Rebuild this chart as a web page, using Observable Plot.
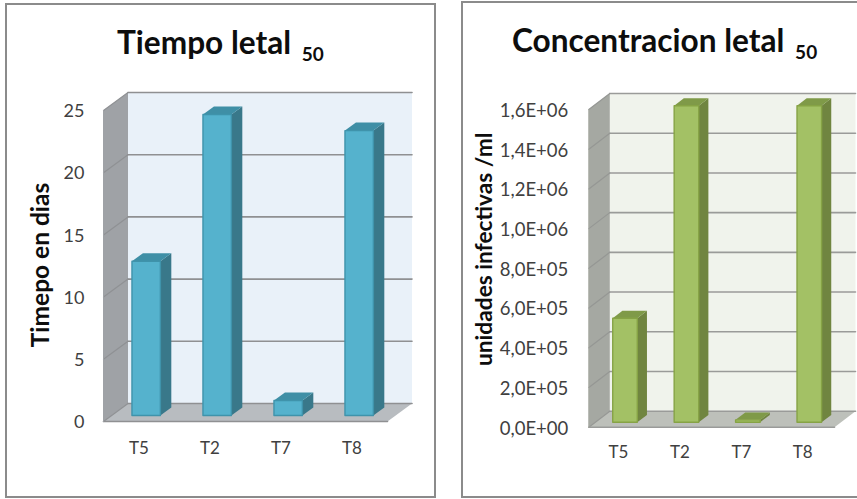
<!DOCTYPE html>
<html><head><meta charset="utf-8">
<script src="https://cdn.jsdelivr.net/npm/d3@7"></script>
<script src="https://cdn.jsdelivr.net/npm/@observablehq/plot@0.6"></script>
<style>
html,body{margin:0;padding:0;background:#fff;overflow:hidden}
#root{position:relative;width:857px;height:499px;overflow:hidden;font-family:Lato,sans-serif}
.panel{position:absolute;box-sizing:border-box;border:2px solid #8b8b8b;background:#fff}
.panel svg{position:absolute;left:0;top:0;overflow:visible}
.title{position:absolute;font-weight:700;color:#0d0d0d;white-space:nowrap;text-align:center;font-size:31.6px;line-height:36px}
.title span{font-size:19px;position:relative;top:7px;margin-left:3px}
</style></head><body><div id="root"></div>
<script>
const categories = ["T5","T2","T7","T8"];
const tiempoValues = [12.4, 24.2, 1.2, 22.9];
const tiempoTicks = [0,5,10,15,20,25];
const concValues = [524000, 1594000, 12000, 1594000];
const concTicks = [0,2e5,4e5,6e5,8e5,1e6,1.2e6,1.4e6,1.6e6];
const concLabels = ["0,0E+00","2,0E+05","4,0E+05","6,0E+05","8,0E+05","1,0E+06","1,2E+06","1,4E+06","1,6E+06"];

function panel({left,top,w,h,title,titleLeft,titleTop,ylabel,values,ticks,tickFormat,vmax,front,depth,zBar,colors,tickPad,tickSize,tickDy,xDx,ylabelX,ylabelDy,ylabelSize}){
  const root = document.getElementById("root");
  const div = document.createElement("div");
  div.className="panel";
  Object.assign(div.style,{left:left+"px",top:top+"px",width:w+"px",height:h+"px"});
  root.appendChild(div);
  const t=document.createElement("div");t.className="title";
  t.innerHTML=title+" <span>50</span>";
  t.style.left=(titleLeft-left-2)+"px";t.style.top=(titleTop-top-2)+"px";
  div.appendChild(t);
  const W=w,H=h;
  const ox=left+2, oy=top+2;
  const fx0=front.x0-ox, fx1=front.x1-ox, fy0=front.yTop-oy, fy1=front.yBottom-oy;
  const n=categories.length;
  const ux=(fx1-fx0)/n, uy=(fy1-fy0)/vmax;
  const P=(i,v,z)=>({x:i+z*depth.dx/ux, y:v+z*depth.dy/uy});
  const poly=(pts,fill,stroke,sw)=>Plot.line([...pts,pts[0]],{x:"x",y:"y",fill,stroke:stroke||"none",strokeWidth:sw||1,curve:"linear",strokeLinejoin:"round"});
  const a=-0.5,b=n-0.5;
  const marks=[
    poly([P(a,0,1),P(b,0,1),P(b,vmax,1),P(a,vmax,1)],colors.back),
    poly([P(a,0,0),P(a,0,1),P(a,vmax,1),P(a,vmax,0)],colors.wall),
    poly([P(a,0,0),P(b,0,0),P(b,0,1),P(a,0,1)],colors.floor),
    ...ticks.map(v=>Plot.line([P(a,v,1),P(b,v,1)],{x:"x",y:"y",stroke:colors.grid,strokeWidth:1.6})),
    ...ticks.map(v=>Plot.line([P(a,v,0),P(a,v,1)],{x:"x",y:"y",stroke:colors.wallGrid,strokeWidth:1.2})),
    Plot.line([P(a,0,0),P(b,0,0)],{x:"x",y:"y",stroke:colors.grid,strokeWidth:1.6}),
    Plot.line([P(a,0,0),P(a,vmax,0)],{x:"x",y:"y",stroke:colors.wall,strokeWidth:1}),
  ];
  const hw=0.2, shift=-1/ux;
  values.forEach((v,i)=>{
    const [z0,z1]=zBar, l=i-hw+shift, r=i+hw+shift;
    marks.push(
      poly([P(r,0,z0),P(r,0,z1),P(r,v,z1),P(r,v,z0)],colors.side),
      poly([P(l,v,z0),P(r,v,z0),P(r,v,z1),P(l,v,z1)],colors.top),
      poly([P(l,0,z0),P(r,0,z0),P(r,v,z0),P(l,v,z0)],colors.bar,colors.barStroke,1.4)
    );
  });
  marks.push(
    Plot.axisY({ticks,tickFormat,tickSize:0,tickPadding:tickPad,fontSize:tickSize,label:null,fill:"#404040",dy:tickDy}),
    Plot.axisX({ticks:categories.map((_,i)=>i),tickFormat:i=>categories[i],tickSize:0,tickPadding:front.xPad,fontSize:17,label:null,fill:"#404040",dx:xDx}),
    Plot.text([ylabel],{frameAnchor:"left",textAnchor:"middle",lineAnchor:"middle",rotate:-90,dx:ylabelX-ox-fx0,dy:ylabelDy,text:d=>d,fontWeight:700,fontSize:ylabelSize,fill:"#0d0d0d"})
  );
  const svg=Plot.plot({
    width:W,height:H,
    marginLeft:fx0,marginRight:W-fx1,marginTop:fy0,marginBottom:H-fy1,
    style:{fontFamily:"Lato,sans-serif",background:"transparent",overflow:"visible",maxWidth:"none"},
    x:{type:"linear",domain:[a,b]},
    y:{type:"linear",domain:[0,vmax]},
    marks
  });
  div.appendChild(svg);
}

panel({left:5,top:3,w:431,h:495,title:"Tiempo letal",titleLeft:117,titleTop:24,
  ylabel:"Timepo en dias",ylabelX:41,ylabelDy:-1,ylabelSize:24.5,values:tiempoValues,ticks:tiempoTicks,tickFormat:d=>d,vmax:25,
  front:{x0:103,x1:387,yTop:110,yBottom:421,xPad:20},depth:{dx:24.5,dy:18},zBar:[1/3,0.78],tickPad:19,tickSize:18,tickDy:1,xDx:0,
  colors:{back:"#e9f1f9",wall:"#9fa2a6",floor:"#b8bcc0",grid:"#8f9092",wallGrid:"#8f9194",side:"#39788a",top:"#3f8fa6",bar:"#55b2cd",barStroke:"#3f93ab"}});

panel({left:461,top:1,w:420,h:497,title:"Concentracion letal",titleLeft:512,titleTop:22,
  ylabel:"unidades infectivas /ml",ylabelX:484,ylabelDy:-19,ylabelSize:22.7,values:concValues,ticks:concTicks,tickFormat:d=>concLabels[concTicks.indexOf(d)],vmax:1.6e6,
  front:{x0:588.3,x1:834,yTop:109,yBottom:426.7,xPad:18.5},depth:{dx:21,dy:16},zBar:[0.31,0.77],tickPad:20.5,tickSize:18.5,tickDy:1.5,xDx:-1,
  colors:{back:"#f0f3ec",wall:"#a5a8a2",floor:"#bdc0ba",grid:"#9a9b99",wallGrid:"#959794",side:"#708540",top:"#7f9a48",bar:"#a3c165",barStroke:"#86a345"}});
</script></body></html>
